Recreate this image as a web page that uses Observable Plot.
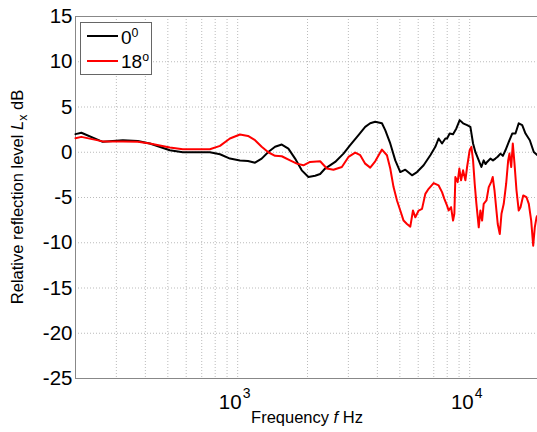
<!DOCTYPE html>
<html><head><meta charset="utf-8">
<script src="https://cdn.jsdelivr.net/npm/d3@7"></script>
<script src="https://cdn.jsdelivr.net/npm/@observablehq/plot@0.6"></script>
<style>
body{margin:0;background:#fff;}
#wrap{position:relative;width:537px;height:432px;overflow:hidden;font-family:"Liberation Sans",Arial,sans-serif;color:#000;}
#ylab{position:absolute;left:19px;top:197px;transform:translate(-50%,-50%) rotate(-90deg);white-space:nowrap;font-size:16.5px;line-height:1;}
#xlab{position:absolute;left:307px;top:409px;transform:translateX(-50%);white-space:nowrap;font-size:16.5px;line-height:1;}
#legend{position:absolute;left:80px;top:22px;width:72px;height:53px;border:1px solid #666;background:#fff;box-sizing:border-box;font-size:19px;}
.li{position:absolute;left:6px;height:0;width:31px;border-top:2px solid;}
.lt{position:absolute;left:40px;line-height:1;}
sup{font-size:0.65em;}
</style></head><body>
<div id="wrap">
<div id="ylab">Relative reflection level <i>L</i><sub style="font-size:0.75em">x</sub> dB</div>
<div id="xlab">Frequency <i>f</i> Hz</div>
</div>
<script>
const series = ["0", "18"];
const freq0 = [200,212,262,320,371,418,510,580,687,759,839,926,1023,1108,1188,1269,1355,1449,1549,1654,1768,1889,2018,2157,2267,2382,2632,2858,3054,3317,3545,3726,3915,4186,4325,4546,4778,5022,5277,5640,5929,6331,6766,7111,7347,7600,7855,7988,8197,8478,8762,9054,9365,9745,10070,10340,10580,10940,11230,11490,11700,11890,12280,12600,12910,13200,13570,13900,14260,14740,15250,15750,16270,16840,17400,18160,18890,19540];
const level0 = [2.0,2.15,1.15,1.33,1.25,0.97,0.22,0.0,0.0,0.0,-0.22,-0.7,-0.9,-0.96,-1.15,-0.7,0.03,0.6,0.85,0.4,-0.7,-2.0,-2.74,-2.6,-2.4,-1.8,-1.07,-0.15,0.78,1.9,2.8,3.2,3.37,3.2,2.44,0.97,-0.9,-2.19,-1.93,-2.55,-2.19,-1.44,-0.33,0.6,1.52,0.97,1.52,1.52,2.07,2.0,2.63,3.55,3.2,3.0,2.8,0.97,0.03,-0.9,-1.63,-0.9,-1.3,-1.07,-0.7,-0.9,-0.7,-0.5,-0.15,-0.4,0.22,1.15,2.07,2.07,3.2,3.0,2.07,1.33,0.03,-0.3];
const freq18 = [200,212,262,320,371,418,510,580,687,759,839,926,1023,1108,1188,1269,1355,1449,1549,1682,1798,1920,2051,2267,2423,2587,2812,3003,3210,3375,3545,3726,3915,4186,4399,4546,4697,4860,5022,5188,5367,5546,5696,5830,6024,6231,6439,6653,6992,7347,7600,7777,7988,8116,8312,8478,8588,8675,8875,9026,9181,9365,9581,9745,10000,10170,10340,10510,10690,10940,11120,11310,11490,11810,12080,12370,12570,12790,13040,13210,13480,13710,14020,14360,14650,14840,15100,15340,15600,15910,16270,16560,17010,17570,17980,18410,18780,19080,19410,19600];
const level18 = [1.55,1.7,1.2,1.2,1.15,0.97,0.52,0.33,0.33,0.33,0.7,1.52,1.96,1.8,1.33,0.6,0.0,-0.4,-0.44,-0.9,-1.26,-1.44,-1.07,-1.0,-1.8,-1.93,-1.63,-0.52,-0.04,-0.33,-1.26,-1.7,-1.0,0.3,-0.33,-1.8,-3.85,-5.33,-6.44,-7.55,-7.93,-8.22,-6.44,-7.19,-6.44,-6.26,-4.6,-4.04,-3.41,-3.67,-4.41,-5.15,-5.9,-6.44,-6.07,-7.55,-6.8,-2.74,-3.3,-1.8,-3.1,-2.0,-3.1,-1.63,0.22,0.6,-0.9,-3.48,-5.7,-8.3,-6.44,-7.55,-5.7,-5.33,-3.85,-3.3,-2.74,-4.2,-6.44,-7.93,-9.04,-6.8,-5.7,-3.48,-0.9,-0.15,-1.63,0.97,-1.26,-4.2,-6.44,-6.07,-4.78,-4.97,-5.7,-7.55,-10.33,-8.3,-7.19,-7.0];
const yTicks = [15,10,5,0,-5,-10,-15,-20,-25];
const xGrid = [200,300,400,500,600,700,800,900,1000,2000,3000,4000,5000,6000,7000,8000,9000,10000];
const xMajor = [1000,10000];
const xMajorExp = ["3","4"];

const rows0 = freq0.map((f,i)=>({f, v: level0[i], s: series[0]}));
const rows18 = freq18.map((f,i)=>({f, v: level18[i], s: series[1]}));
const majors = xMajor.map((f,i)=>({f, e: xMajorExp[i]}));

const chart = Plot.plot({
  width: 537, height: 432,
  marginLeft: 75, marginRight: 0, marginTop: 16, marginBottom: 54,
  x: {type: "log", domain: [200, 19600], axis: null},
  y: {domain: [-25, 15], axis: null},
  style: {fontFamily: "Liberation Sans, Arial, sans-serif", fontSize: "20px", color: "#000", background: "#fff"},
  marks: [
    Plot.ruleX(xGrid, {stroke: "#bbb", strokeDasharray: "1,2"}),
    Plot.ruleY(yTicks, {stroke: "#bbb", strokeDasharray: "1,2"}),
    Plot.ruleX([200], {stroke: "#888"}),
    Plot.ruleY([15, -25], {stroke: "#888"}),
    Plot.line(rows0, {x: "f", y: "v", stroke: "#000", strokeWidth: 2}),
    Plot.line(rows18, {x: "f", y: "v", stroke: "#ff0000", strokeWidth: 2}),
    Plot.text(yTicks, {y: d => d, frameAnchor: "left", text: d => String(d), textAnchor: "end", dx: -3, fontSize: 20.5}),
    Plot.text(majors, {x: "f", frameAnchor: "bottom", text: () => "10", textAnchor: "end", dx: 4, dy: 30, lineAnchor: "bottom", fontSize: 20.5}),
    Plot.text(majors, {x: "f", frameAnchor: "bottom", text: "e", textAnchor: "start", dx: 5, dy: 19, lineAnchor: "bottom", fontSize: 14})
  ]
});
const wrap = document.getElementById("wrap");
wrap.insertBefore(chart, wrap.firstChild);
const lg = document.createElement("div");
lg.id = "legend";
lg.innerHTML = `<div class="li" style="top:12px;border-color:#000"></div><div class="lt" style="top:4px">${series[0]}<sup>0</sup></div>
<div class="li" style="top:37px;border-color:#ff0000"></div><div class="lt" style="top:28px">${series[1]}<sup>o</sup></div>`;
wrap.appendChild(lg);
</script>
</body></html>
